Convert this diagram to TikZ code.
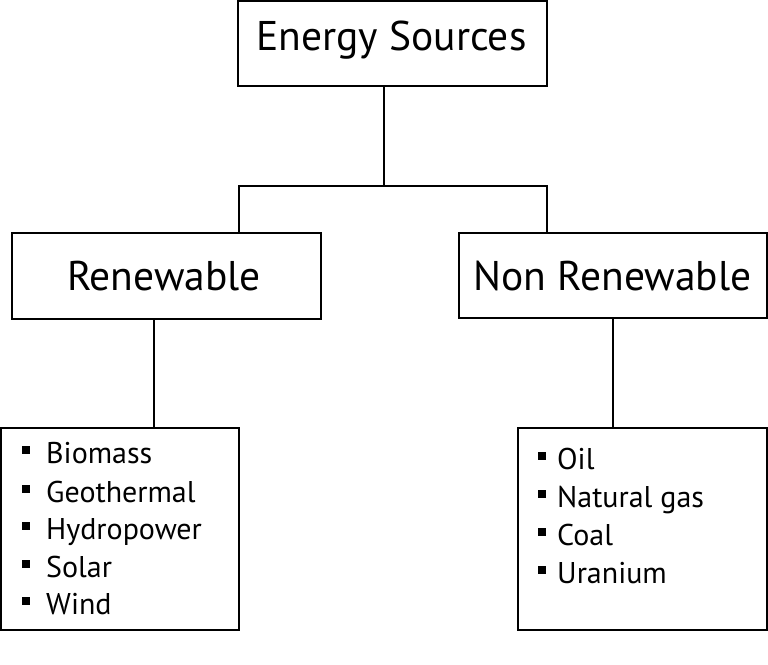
\documentclass[tikz,border=0pt]{standalone}
\usepackage{fontspec}
\setmainfont{PT Sans}
\begin{document}
\begin{tikzpicture}[x=1pt,y=-1pt,
  box/.style={draw=black,line width=1.4pt,inner sep=0pt,fill=white},
  conn/.style={draw=black,line width=1.4pt},
  big/.style={font=\fontsize{41.5}{41.5}\selectfont,anchor=base,inner sep=0pt},
  item/.style={font=\fontsize{30}{30}\selectfont,anchor=base west,inner sep=0pt},
  bul/.style={fill=black,inner sep=0pt,minimum size=8.5pt}]
\useasboundingbox (0,0) rectangle (768,664);
% boxes
\node[box,minimum width=309pt,minimum height=85pt] (top) at (392.5,43.5) {};
\node[box,minimum width=309pt,minimum height=86pt] (ren) at (166.5,276) {};
\node[box,minimum width=308pt,minimum height=85pt] (non) at (613,275.5) {};
\node[box,minimum width=238pt,minimum height=202pt] (rl) at (120,529) {};
\node[box,minimum width=249pt,minimum height=202pt] (nl) at (642.5,529) {};
% titles
\node[big] (tTop) at (391.5,50) {Energy Sources};
\node[big] (tRen) at (164,290) {Renewable};
\node[big] (tNon) at (612.5,290) {Non Renewable};
% connectors
\coordinate (j) at (384,186);
\coordinate (jl) at (239,186);
\coordinate (jr) at (547,186);
\draw[conn] (top.south -| j) -- (j);
\draw[conn] (ren.north -| jl) -- (jl) -- (jr) -- (non.north -| jr);
\draw[conn] (ren.south -| 154,0) -- (rl.north -| 154,0);
\draw[conn] (non.south -| 613,0) -- (nl.north -| 613,0);
% left list
\foreach \t/\y [count=\i] in {Biomass/463,Geothermal/502,Hydropower/539,Solar/577,Wind/614}{
  \node[bul] (lb\i) at (26,\y-13) {};
  \node[item] (li\i) at (46,\y) {\t};
}
% right list
\foreach \t/\y [count=\i] in {Oil/469,Natural gas/507,Coal/545,Uranium/583}{
  \node[bul] (rb\i) at (542,\y-13) {};
  \node[item] (ri\i) at (557,\y) {\t};
}
\end{tikzpicture}
\end{document}
